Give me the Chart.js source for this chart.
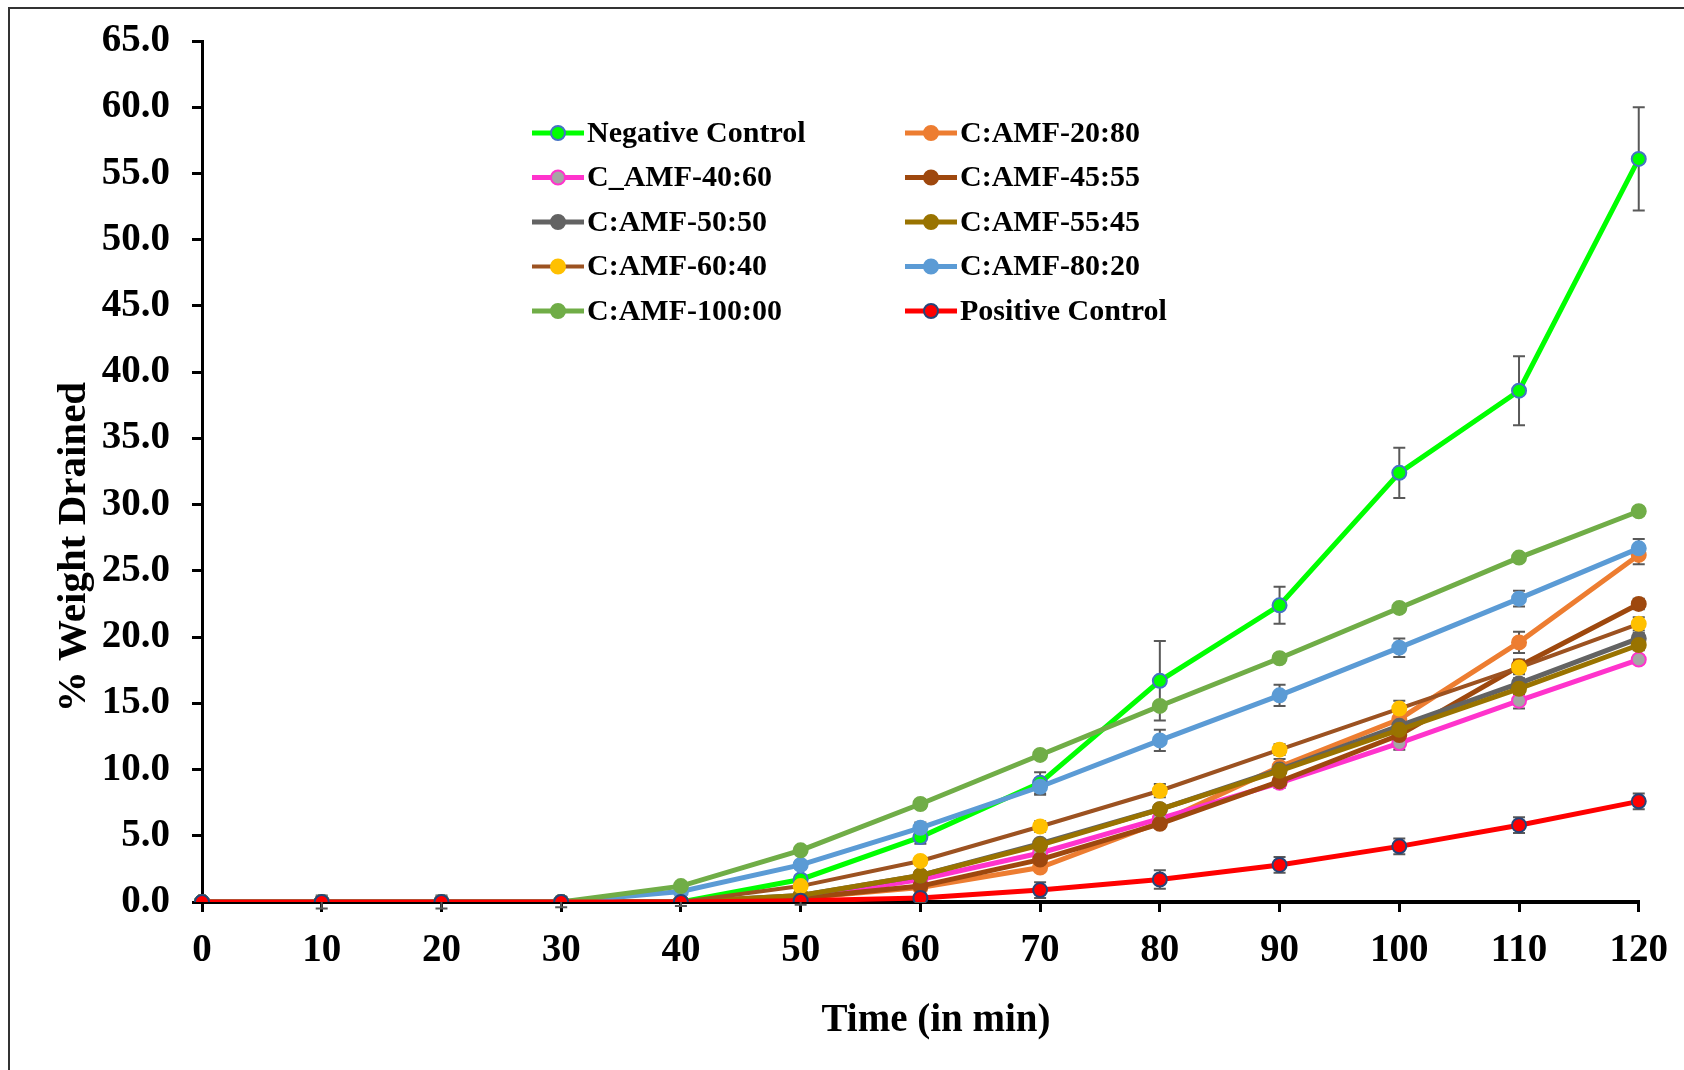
<!DOCTYPE html>
<html>
<head>
<meta charset="utf-8">
<script src="https://cdn.jsdelivr.net/npm/chart.js@4.4.1/dist/chart.umd.min.js"></script>
<style>
  html, body { margin: 0; padding: 0; background: #fff; overflow: hidden; }
  #frame { position: absolute; left: 8px; top: 7px; width: 1720px; height: 1120px; border: 2px solid #333; }
  #wrap { position: absolute; left: 0; top: 0; width: 1684px; height: 1070px; }
</style>
</head>
<body>
<div id="frame"></div>
<div id="wrap"><canvas id="chart" width="1684" height="1070"></canvas></div>
<script>
// Tiempo (min)
const times = [0, 10, 20, 30, 40, 50, 60, 70, 80, 90, 100, 110, 120];

// % de peso drenado por muestra
const negControl = [0, 0, 0, 0, 0, 1.7, 4.9, 9.0, 16.7, 22.4, 32.4, 38.6, 56.1];
const amf20_80   = [0, 0, 0, 0, 0, 0.3, 1.1, 2.6, 6.0, 10.2, 13.8, 19.6, 26.2];
const amf40_60   = [0, 0, 0, 0, 0, 0.3, 1.7, 3.7, 6.3, 9.0, 12.0, 15.2, 18.3];
const amf45_55   = [0, 0, 0, 0, 0, 0.3, 1.2, 3.2, 5.9, 9.1, 12.6, 17.8, 22.5];
const amf50_50   = [0, 0, 0, 0, 0, 0.5, 2.0, 4.4, 7.0, 10.0, 13.3, 16.5, 19.9];
const amf55_45   = [0, 0, 0, 0, 0, 0.5, 2.0, 4.3, 7.0, 9.9, 13.0, 16.1, 19.4];
const amf60_40   = [0, 0, 0, 0, 0, 1.2, 3.1, 5.7, 8.4, 11.5, 14.6, 17.7, 21.0];
const amf80_20   = [0, 0, 0, 0, 0.8, 2.8, 5.6, 8.7, 12.2, 15.6, 19.2, 22.9, 26.7];
const amf100_00  = [0, 0, 0, 0, 1.2, 3.9, 7.4, 11.1, 14.8, 18.4, 22.2, 26.0, 29.5];
const posControl = [0, 0, 0, 0, 0, 0.1, 0.3, 0.9, 1.7, 2.8, 4.2, 5.8, 7.6];

// desviación estándar
const negControlErr = [0, 0, 0, 0, 0, 0.3, 0.5, 0.8, 3.0, 1.4, 1.9, 2.6, 3.9];
const amf20_80Err   = [0, 0, 0, 0, 0, 0.1, 0.2, 0.3, 0.4, 0.6, 0.7, 0.8, 0.7];
const amf40_60Err   = [0, 0, 0, 0, 0, 0.1, 0.2, 0.3, 0.3, 0.4, 0.5, 0.6, 0.3];
const amf45_55Err   = [0, 0, 0, 0, 0, 0.1, 0.2, 0.3, 0.3, 0.3, 0.4, 0.5, 0.4];
const amf50_50Err   = [0, 0, 0, 0, 0, 0.1, 0.2, 0.3, 0.3, 0.3, 0.4, 0.4, 0.4];
const amf55_45Err   = [0, 0, 0, 0, 0, 0.1, 0.2, 0.3, 0.3, 0.3, 0.4, 0.4, 0.4];
const amf60_40Err   = [0, 0, 0, 0, 0, 0.3, 0.3, 0.4, 0.5, 0.4, 0.6, 0.5, 0.5];
const amf80_20Err   = [0, 0, 0, 0, 0, 0.3, 0.4, 0.6, 0.8, 0.8, 0.7, 0.6, 0.7];
const amf100_00Err  = [0, 0, 0, 0, 0, 0.2, 0.3, 0.3, 0.3, 0.3, 0.3, 0.3, 0.3];
const posControlErr = [0, 0.5, 0.5, 0.4, 0.3, 0.3, 0.3, 0.6, 0.7, 0.6, 0.6, 0.6, 0.6];

const yTicks = [0, 5, 10, 15, 20, 25, 30, 35, 40, 45, 50, 55, 60, 65];

const FONT = '"Liberation Serif", "Times New Roman", serif';

function serie(label, data, err, line, fill, edge, width) {
    return {
        label: label,
        data: data,
        err: err,
        borderColor: line,
        backgroundColor: fill,
        pointBackgroundColor: fill,
        pointBorderColor: edge,
        pointBorderWidth: 2,
        pointRadius: 7,
        borderWidth: width,
        tension: 0
    };
}

const datasets = [
    serie('Negative Control', negControl, negControlErr, '#00FF00', '#00FF00', '#4472C4', 5),
    serie('C:AMF-20:80', amf20_80, amf20_80Err, '#ED7D31', '#ED7D31', '#ED7D31', 5),
    serie('C_AMF-40:60', amf40_60, amf40_60Err, '#FF33CC', '#A5A5A5', '#FF33CC', 5),
    serie('C:AMF-45:55', amf45_55, amf45_55Err, '#9E480E', '#9E480E', '#9E480E', 5),
    serie('C:AMF-50:50', amf50_50, amf50_50Err, '#636363', '#636363', '#636363', 5),
    serie('C:AMF-55:45', amf55_45, amf55_45Err, '#997300', '#997300', '#997300', 5),
    serie('C:AMF-60:40', amf60_40, amf60_40Err, '#9C5221', '#FFC000', '#FFC000', 4),
    serie('C:AMF-80:20', amf80_20, amf80_20Err, '#5B9BD5', '#5B9BD5', '#5B9BD5', 5),
    serie('C:AMF-100:00', amf100_00, amf100_00Err, '#70AD47', '#70AD47', '#70AD47', 5),
    serie('Positive Control', posControl, posControlErr, '#FF0000', '#FF0000', '#264478', 5)
];
// la última serie queda encima, como en Excel
datasets.forEach((d, i) => { d.order = datasets.length - i; });

// barras de error verticales con remate
const errorBars = {
    id: 'errorBars',
    beforeDatasetsDraw(chart) {
        const ctx = chart.ctx;
        const y = chart.scales.y;
        ctx.save();
        ctx.strokeStyle = '#595959';
        ctx.lineWidth = 2;
        chart.data.datasets.forEach((ds, i) => {
            const meta = chart.getDatasetMeta(i);
            meta.data.forEach((pt, j) => {
                const e = ds.err[j];
                if (!e) return;
                const top = y.getPixelForValue(ds.data[j] + e);
                const bot = y.getPixelForValue(ds.data[j] - e);
                ctx.beginPath();
                ctx.moveTo(pt.x, top); ctx.lineTo(pt.x, bot);
                ctx.moveTo(pt.x - 6, top); ctx.lineTo(pt.x + 6, top);
                ctx.moveTo(pt.x - 6, bot); ctx.lineTo(pt.x + 6, bot);
                ctx.stroke();
            });
        });
        ctx.restore();
    }
};

// leyenda en dos columnas dentro del área del gráfico + títulos de ejes
const twoColLegend = {
    id: 'twoColLegend',
    afterDraw(chart) {
        const ctx = chart.ctx;
        ctx.save();
        ctx.font = 'bold 30px ' + FONT;
        ctx.textBaseline = 'middle';
        chart.data.datasets.forEach((ds, i) => {
            const x = (i % 2) ? 905 : 532;
            const yy = 133 + Math.floor(i / 2) * 44.5;
            ctx.strokeStyle = ds.borderColor;
            ctx.lineWidth = ds.borderWidth;
            ctx.beginPath();
            ctx.moveTo(x, yy); ctx.lineTo(x + 52, yy);
            ctx.stroke();
            ctx.beginPath();
            ctx.arc(x + 26, yy, 7, 0, Math.PI * 2);
            ctx.fillStyle = ds.pointBackgroundColor;
            ctx.fill();
            ctx.lineWidth = 2;
            ctx.strokeStyle = ds.pointBorderColor;
            ctx.stroke();
            ctx.fillStyle = '#000';
            ctx.fillText(ds.label, x + 55, yy + 1);
        });

        ctx.textAlign = 'center';
        ctx.font = 'bold 39px ' + FONT;
        ctx.fillText('Time (in min)', 936, 1021);

        ctx.translate(74, 547);
        ctx.rotate(-Math.PI / 2);
        ctx.font = 'bold 41px ' + FONT;
        ctx.fillText('% Weight Drained', 0, 0);
        ctx.restore();
    }
};

new Chart(document.getElementById('chart').getContext('2d'), {
    type: 'line',
    data: {
        labels: times,
        datasets: datasets
    },
    options: {
        responsive: false,
        animation: false,
        layout: { padding: { left: 0, top: 41, right: 42, bottom: 0 } },
        plugins: {
            legend: { display: false },
            tooltip: { enabled: false }
        },
        scales: {
            x: {
                type: 'category',
                offset: false,
                afterFit(scale) { scale.height = 168; },
                border: { color: '#000', width: 4 },
                grid: { drawOnChartArea: false, color: '#000', lineWidth: 3, tickLength: 10 },
                ticks: { color: '#000', padding: 16, maxRotation: 0, font: { family: FONT, size: 39, weight: 'bold' } },
                title: { display: false }
            },
            y: {
                min: 0,
                max: 65,
                afterFit(scale) {
                    scale.width = 202;
                    scale.paddingTop = 0;
                    scale.paddingBottom = 0;
                },
                afterBuildTicks(scale) { scale.ticks = yTicks.map(v => ({ value: v })); },
                border: { color: '#000', width: 3 },
                grid: { drawOnChartArea: false, color: '#000', lineWidth: 3, tickLength: 10 },
                ticks: {
                    color: '#000',
                    padding: 22,
                    font: { family: FONT, size: 39, weight: 'bold' },
                    callback: v => v.toFixed(1)
                },
                title: { display: false }
            }
        }
    },
    plugins: [errorBars, twoColLegend]
});
</script>
</body>
</html>
